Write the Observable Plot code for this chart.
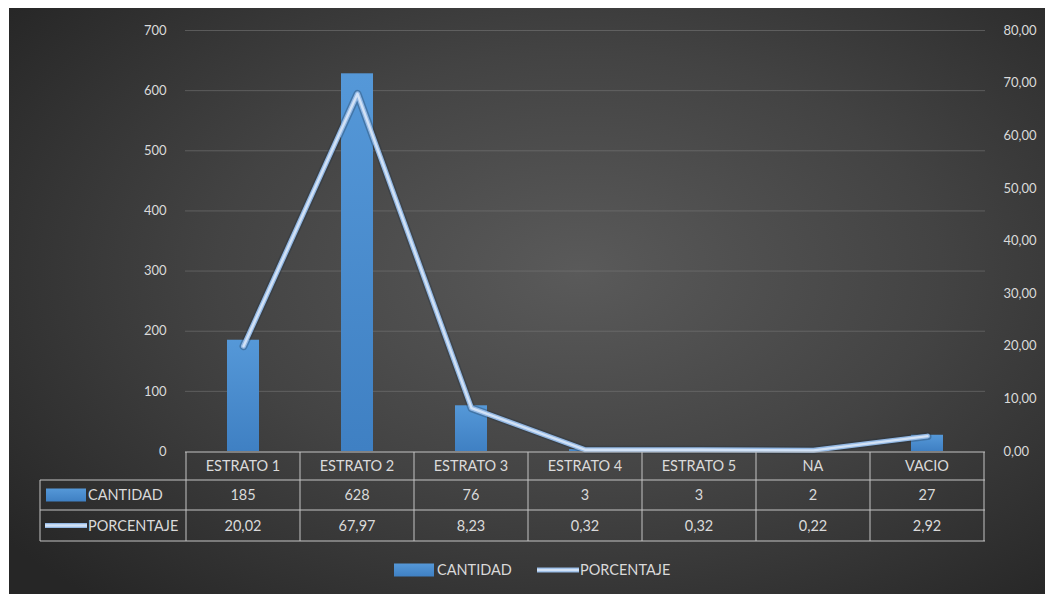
<!DOCTYPE html>
<html>
<head>
<meta charset="utf-8">
<script src="https://cdn.jsdelivr.net/npm/d3@7"></script>
<script src="https://cdn.jsdelivr.net/npm/@observablehq/plot@0.6"></script>
<style>
  html, body { margin: 0; padding: 0; background: #ffffff; }
  #chart {
    position: absolute; left: 9px; top: 8px; width: 1036px; height: 586px;
    background: radial-gradient(ellipse 70% 75% at 55% 45%, #5a5a5a 0%, #434343 50%, #262626 100%);
    overflow: hidden;
  }
  #chart svg { display: block; }
</style>
</head>
<body>
<div id="chart"></div>
<script>
// Estratos y sus conteos / porcentajes
const categories = ["ESTRATO 1", "ESTRATO 2", "ESTRATO 3", "ESTRATO 4", "ESTRATO 5", "NA", "VACIO"];
const cantidad = [185, 628, 76, 3, 3, 2, 27];
const porcentaje = [20.02, 67.97, 8.23, 0.32, 0.32, 0.22, 2.92];
const countTicks = [0, 100, 200, 300, 400, 500, 600, 700];
const pctTicks = [0, 10, 20, 30, 40, 50, 60, 70, 80];
const seriesNames = ["CANTIDAD", "PORCENTAJE"];

const rows = categories.map((c, i) => ({cat: c, cantidad: cantidad[i], pct: porcentaje[i]}));

// the percentage series shares the count axis: 80 % ↔ 700
const k = 700 / 80;
const fmt2 = v => v.toFixed(2).replace(".", ",");

const W = 1036, H = 586;
const textColor = "#dadada";
const font = "Lato, 'Open Sans', sans-serif";
const lineOuter = "#93b8e4";
const lineInner = "#d2e2f6";

const plot = Plot.plot({
  width: W, height: H,
  marginLeft: 176, marginRight: 60, marginTop: 22, marginBottom: 143,
  style: {background: "transparent", color: textColor, fontFamily: font, fontSize: "13px"},
  x: {domain: categories, padding: 0, axis: null},
  y: {domain: [0, 700], axis: null},
  marks: [
    Plot.gridY(countTicks.slice(1), {stroke: "#7a7a7a", strokeOpacity: 0.55}),
    Plot.axisY(countTicks, {anchor: "left", tickSize: 0, tickPadding: 19, label: null, fill: textColor}),
    Plot.axisY(pctTicks.map(v => v * k), {anchor: "right", tickSize: 0, tickPadding: 18, label: null,
      fill: textColor, tickFormat: v => fmt2(v / k)}),
    Plot.barY(rows, {x: "cat", y: "cantidad", fill: "url(#barFill)", insetLeft: 41, insetRight: 41}),
    Plot.line(rows, {x: "cat", y: d => d.pct * k, stroke: "#1e2d40", strokeWidth: 8, strokeOpacity: 0.3}),
    Plot.line(rows, {x: "cat", y: d => d.pct * k, stroke: lineOuter, strokeWidth: 5}),
    Plot.line(rows, {x: "cat", y: d => d.pct * k, stroke: lineInner, strokeWidth: 2.4})
  ]
});

document.getElementById("chart").appendChild(plot);

const svg = d3.select(plot);
const defs = svg.insert("defs", ":first-child");
const grad = defs.append("linearGradient").attr("id", "barFill")
  .attr("x1", 0).attr("y1", 0).attr("x2", 0).attr("y2", 1);
grad.append("stop").attr("offset", "0%").attr("stop-color", "#5598d8");
grad.append("stop").attr("offset", "100%").attr("stop-color", "#3f80c3");

// data table under the plot, aligned with the x bands
const xs = plot.scale("x");
const bw = xs.bandwidth;
const frameL = 176, frameR = W - 60;
const rowY = [444, 472, 502, 533];
const labelX0 = 31;
const g = svg.append("g").attr("font-family", font).attr("font-size", 14.5).attr("fill", textColor);
const lineStroke = "#c4c4c4";

// horizontal rules
g.append("line").attr("x1", frameL).attr("x2", frameR).attr("y1", rowY[0]).attr("y2", rowY[0]).attr("stroke", lineStroke);
for (let r = 1; r < rowY.length; r++) {
  g.append("line").attr("x1", labelX0).attr("x2", frameR).attr("y1", rowY[r]).attr("y2", rowY[r]).attr("stroke", lineStroke);
}
// vertical rules
const edges = categories.map(c => xs.apply(c)).concat([xs.apply(categories[categories.length - 1]) + bw]);
edges.forEach(x => {
  g.append("line").attr("x1", x).attr("x2", x).attr("y1", rowY[0]).attr("y2", rowY[3]).attr("stroke", lineStroke);
});
g.append("line").attr("x1", labelX0).attr("x2", labelX0).attr("y1", rowY[1]).attr("y2", rowY[3]).attr("stroke", lineStroke);

const mid = (a, b) => (a + b) / 2;
categories.forEach((c, i) => {
  const cx = xs.apply(c) + bw / 2;
  g.append("text").attr("x", cx).attr("y", mid(rowY[0], rowY[1])).attr("dy", "0.35em").attr("text-anchor", "middle").text(c);
  g.append("text").attr("x", cx).attr("y", mid(rowY[1], rowY[2])).attr("dy", "0.35em").attr("text-anchor", "middle").text(cantidad[i]);
  g.append("text").attr("x", cx).attr("y", mid(rowY[2], rowY[3])).attr("dy", "0.35em").attr("text-anchor", "middle").text(fmt2(porcentaje[i]));
});

// legend keys inside the table
function barKey(sel, x, yc) {
  sel.append("rect").attr("x", x).attr("y", yc - 6.5).attr("width", 40).attr("height", 13).attr("fill", "url(#barFill)");
}
function lineKey(sel, x, yc) {
  sel.append("line").attr("x1", x).attr("x2", x + 42).attr("y1", yc).attr("y2", yc).attr("stroke", lineOuter).attr("stroke-width", 5);
  sel.append("line").attr("x1", x).attr("x2", x + 42).attr("y1", yc).attr("y2", yc).attr("stroke", lineInner).attr("stroke-width", 2.4);
}
function label(sel, x, y, t) {
  sel.append("text").attr("x", x).attr("y", y).attr("dy", "0.35em").attr("text-anchor", "start").text(t);
}
barKey(g, 37, mid(rowY[1], rowY[2]));
label(g, 79, mid(rowY[1], rowY[2]), seriesNames[0]);
lineKey(g, 36, mid(rowY[2], rowY[3]));
label(g, 79, mid(rowY[2], rowY[3]), seriesNames[1]);

// bottom legend
const legY = 562;
barKey(g, 385, legY);
label(g, 428, legY, seriesNames[0]);
lineKey(g, 528, legY);
label(g, 571, legY, seriesNames[1]);
</script>
</body>
</html>
